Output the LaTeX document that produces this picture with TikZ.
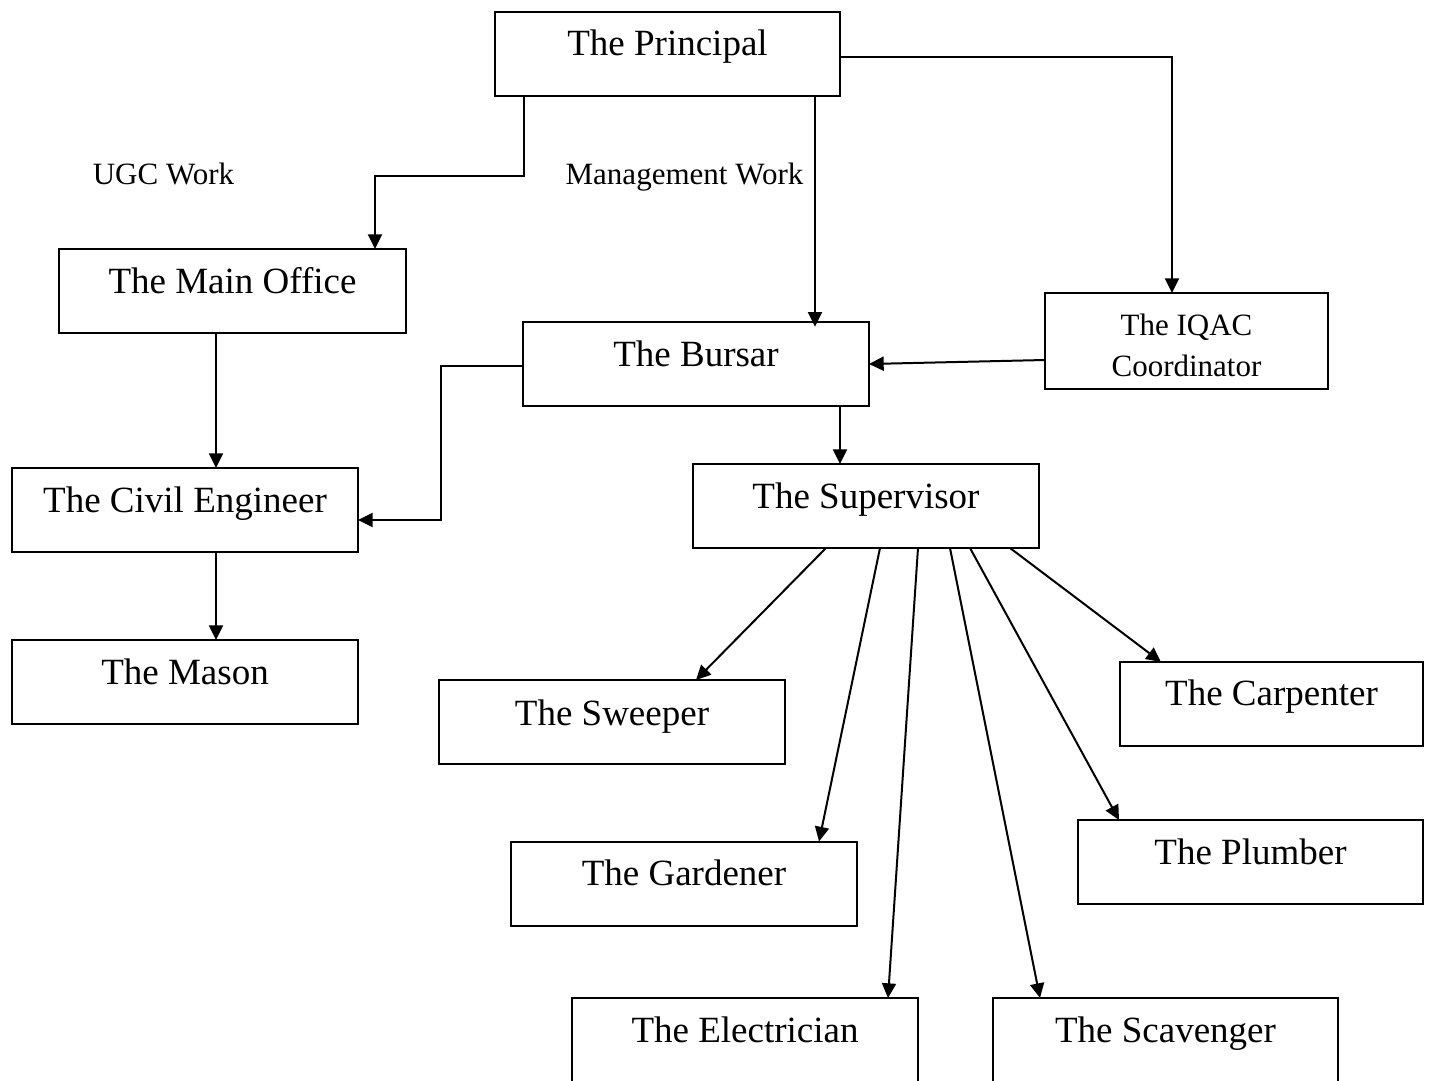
\documentclass[tikz,border=0pt]{standalone}
\usepackage{fontspec}
\setmainfont{Liberation Serif}
\usetikzlibrary{arrows.meta}
\begin{document}
\begin{tikzpicture}[x=0.75pt,y=-0.75pt,
  box/.style n args={2}{draw,line width=1.5pt,inner sep=0pt,outer sep=0pt,
     minimum width=#1*0.75pt,minimum height=#2*0.75pt},
  txt/.style={anchor=base,inner sep=0pt,font=\fontsize{27.75}{33}\selectfont},
  small/.style={anchor=base,inner sep=0pt,font=\fontsize{23.25}{30}\selectfont},
  arr/.style={line width=1.5pt,-{Triangle[length=11pt,width=10.5pt]}}]
\useasboundingbox (0,0) rectangle (1429,1081);
\clip (0,0) rectangle (1429,1081);
% boxes
\node[box={345}{84}] (principal) at (667.5,54) {};
\node[box={347}{84}] (mainoffice) at (232.5,291) {};
\node[box={346}{84}] (bursar) at (696,364) {};
\node[box={283}{96}] (iqac) at (1186.5,341) {};
\node[box={346}{84}] (civil) at (185,510) {};
\node[box={346}{84}] (supervisor) at (866,506) {};
\node[box={346}{84}] (mason) at (185,682) {};
\node[box={346}{84}] (sweeper) at (612,722) {};
\node[box={303}{84}] (carpenter) at (1271.5,704) {};
\node[box={346}{84}] (gardener) at (684,883.5) {};
\node[box={345}{84}] (plumber) at (1250.5,862) {};
\node[box={346}{92}] (electrician) at (745,1044) {};
\node[box={345}{92}] (scavenger) at (1165.5,1044) {};
% texts
\node[txt] (t1) at ([yshift=-44*0.75pt]principal.north) {The Principal};
\node[txt] (t2) at ([yshift=-44*0.75pt]mainoffice.north) {The Main Office};
\node[txt] (t3) at ([yshift=-44*0.75pt]bursar.north) {The Bursar};
\node[small] (t4a) at ([yshift=-42*0.75pt]iqac.north) {The IQAC};
\node[small] (t4b) at ([yshift=-83*0.75pt]iqac.north) {Coordinator};
\node[txt] (t5) at ([yshift=-44*0.75pt]civil.north) {The Civil Engineer};
\node[txt] (t6) at ([yshift=-44*0.75pt]supervisor.north) {The Supervisor};
\node[txt] (t7) at ([yshift=-44*0.75pt]mason.north) {The Mason};
\node[txt] (t8) at ([yshift=-45*0.75pt]sweeper.north) {The Sweeper};
\node[txt] (t9) at ([yshift=-43*0.75pt]carpenter.north) {The Carpenter};
\node[txt] (t10) at ([yshift=-44*0.75pt]gardener.north) {The Gardener};
\node[txt] (t11) at ([yshift=-44*0.75pt]plumber.north) {The Plumber};
\node[txt] (t12) at ([yshift=-44*0.75pt]electrician.north) {The Electrician};
\node[txt] (t13) at ([yshift=-44*0.75pt]scavenger.north) {The Scavenger};
\node[small] (ugc) at (163.5,185) {UGC Work};
\node[small] (mgmt) at (684.5,185) {Management Work};
% routing coordinates
\coordinate (c1) at (524,176);
\coordinate (c2) at (375,176);
\coordinate (c3) at (815,0);
\coordinate (c4) at (1172,57);
\coordinate (c5) at (0,360);
\coordinate (c6) at (0,364);
\coordinate (c7) at (441,366);
\coordinate (c8) at (441,520);
\coordinate (c9) at (840,0);
\coordinate (c10) at (216,0);
% connectors
\draw[arr] (principal.south -| c1) -- (c1) -- (c2) -- (mainoffice.north -| c2);
\draw[arr,shorten >=-3.5pt] (principal.south -| c3) -- (bursar.north -| c3);
\draw[arr] (principal.east |- c4) -- (c4) -- (iqac.north -| c4);
\draw[arr] (iqac.west |- c5) -- (bursar.east |- c6);
\draw[arr] (bursar.west |- c7) -- (c7) -- (c8) -- (civil.east |- c8);
\draw[arr] (bursar.south -| c9) -- (supervisor.north -| c9);
\draw[arr] (mainoffice.south -| c10) -- (civil.north -| c10);
\draw[arr] (civil.south -| c10) -- (mason.north -| c10);
% fan from supervisor
\coordinate (s1) at (826,0);  \coordinate (e1) at (696,0);
\coordinate (s2) at (880,0);  \coordinate (e2) at (819,0);
\coordinate (s3) at (918,0);  \coordinate (e3) at (888,0);
\coordinate (s4) at (950,0);  \coordinate (e4) at (1040,0);
\coordinate (s5) at (970,0);  \coordinate (e5) at (1119,0);
\coordinate (s6) at (1010,0); \coordinate (e6) at (1161,0);
\draw[arr] (supervisor.south -| s1) -- (sweeper.north -| e1);
\draw[arr] (supervisor.south -| s2) -- (gardener.north -| e2);
\draw[arr] (supervisor.south -| s3) -- (electrician.north -| e3);
\draw[arr] (supervisor.south -| s4) -- (scavenger.north -| e4);
\draw[arr] (supervisor.south -| s5) -- (plumber.north -| e5);
\draw[arr] (supervisor.south -| s6) -- (carpenter.north -| e6);
\end{tikzpicture}
\end{document}
